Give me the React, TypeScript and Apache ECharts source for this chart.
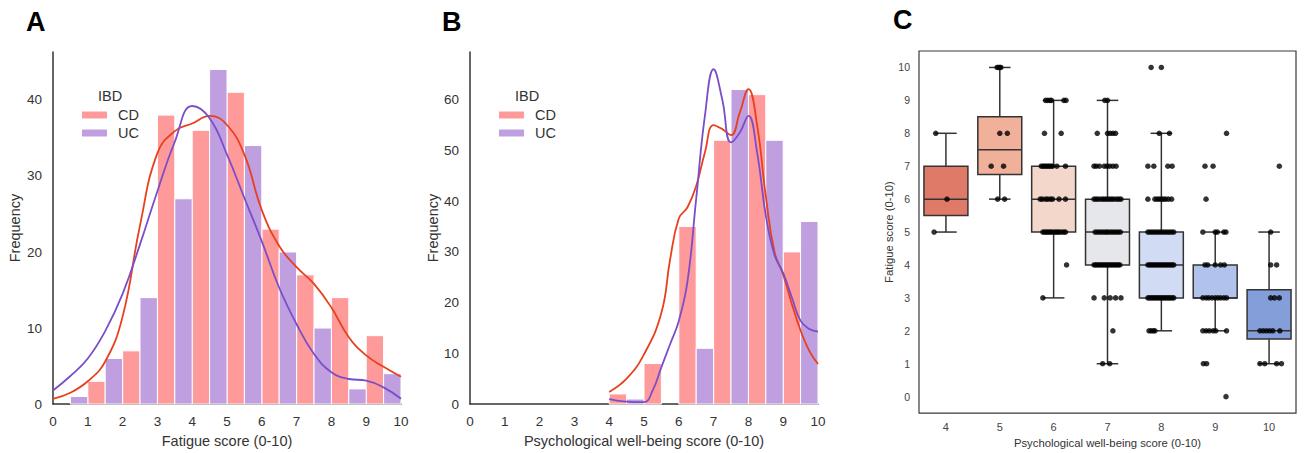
import React, { useEffect, useRef } from "react";
import * as echarts from "echarts";

// ---------- DATA ----------
const binStarts = [0, 1, 2, 3, 4, 5, 6, 7, 8, 9];
const fatigueCD = [0, 3, 7, 38, 36, 41, 23, 17, 14, 9];
const fatigueUC = [1, 6, 14, 27, 44, 34, 20, 10, 2, 4];
const wellbeingCD = [0, 0, 0, 0, 2, 8, 35, 52, 61, 30];
const wellbeingUC = [0, 0, 0, 0, 1, 0, 11, 62, 52, 36];

const fatigueKdeCD = [
  [0, 0.7], [0.5, 1.5], [1, 3.0], [1.5, 5.6], [2, 11.5], [2.5, 23.5], [3, 33], [3.5, 35.9],
  [4, 36.9], [4.5, 37.9], [5, 36.7], [5.5, 32.8], [6, 25.5], [6.5, 20.8], [7, 18], [7.5, 15.8],
  [8, 12.7], [8.5, 8.8], [9, 6.4], [9.5, 4.9], [10, 3.6],
];
const fatigueKdeUC = [
  [0, 1.8], [0.5, 3.7], [1, 6.0], [1.5, 9.6], [2, 14.5], [2.5, 21], [3, 28], [3.5, 34.5],
  [4, 39.2], [4.5, 37.6], [5, 32.8], [5.5, 27.1], [6, 21.4], [6.5, 15.3], [7, 10.5],
  [7.5, 6.6], [8, 4.2], [8.5, 3.3], [9, 3.1], [9.5, 2.2], [10, 0.7],
];
const wellbeingKdeCD = [
  [4, 2.4], [4.5, 5.0], [5, 9.8], [5.5, 18], [5.75, 28.5], [6, 36.6], [6.25, 38.8], [6.5, 43],
  [6.75, 49.6], [7, 55], [7.25, 54.2], [7.5, 53], [7.75, 57.4], [8, 62.1], [8.25, 55],
  [8.5, 41], [8.75, 30], [9, 25.5], [9.25, 19.7], [9.5, 14.5], [9.75, 10.5], [10, 7.9],
];
const wellbeingKdeUC = [
  [4, 1.0], [4.5, 0.5], [5, 0.4], [5.25, 2.7], [5.5, 7.3], [5.75, 11.8], [6, 16.4], [6.25, 24.2],
  [6.5, 40.5], [6.75, 56.8], [7, 66], [7.25, 60], [7.5, 51.6], [7.75, 53.5],
  [8, 56.8], [8.25, 49.6], [8.5, 37.2], [8.75, 29.4], [9, 25.8], [9.25, 21], [9.5, 16.4],
  [9.75, 14.8], [10, 14.3],
];

const boxCategories = ["4", "5", "6", "7", "8", "9", "10"];
// [min whisker, Q1, median, Q3, max whisker]
const boxStats = [
  [5, 5.5, 6, 7, 8],
  [6, 6.75, 7.5, 8.5, 10],
  [3, 5, 6, 7, 9],
  [1, 4, 5, 6, 9],
  [2, 3, 4, 5, 8],
  [2, 3, 3, 4, 5],
  [1, 1.75, 2, 3.25, 5],
];
const boxPalette = ["#e07a68", "#f0b09a", "#f3d7ca", "#e6e7eb", "#d1dcf4", "#b1c2ec", "#849ed9"];

// strip plot: [category index, fatigue score, jitter offsets]
const stripRows: [number, number, number[]][] = [
  [0, 8, [-0.19]], [0, 6, [0.02]], [0, 5, [-0.22]],
  [1, 10, [-0.05, -0.02, 0.0, 0.02]], [1, 8, [0.0, 0.14]], [1, 7, [-0.16, 0.07]], [1, 6, [-0.04, 0.09]],
  [2, 9, [-0.15, -0.11, -0.07, -0.04, 0.19, 0.23]], [2, 8, [-0.17, 0.14]],
  [2, 7, [-0.23, -0.2, -0.17, -0.14, -0.11, -0.08, -0.05, -0.02, 0.06, 0.22]],
  [2, 6, [-0.25, -0.21, -0.15, -0.11, -0.06, -0.02, 0.1, 0.22]],
  [2, 5, [-0.2, -0.17, -0.14, -0.11, -0.08, -0.05, -0.02, 0.02, 0.05, 0.08, 0.11, 0.15, 0.19, 0.22]],
  [2, 4, [0.24]], [2, 3, [-0.2]],
  [3, 9, [-0.05, 0.0]], [3, 8, [-0.19, 0.0, 0.05, 0.1, 0.15]],
  [3, 7, [-0.25, -0.21, -0.15, -0.06, -0.01, 0.04, 0.1, 0.16]],
  [3, 6, [-0.25, -0.21, -0.17, -0.12, -0.08, -0.04, 0.0, 0.04, 0.08, 0.12, 0.17, 0.21, 0.25]],
  [3, 5, [-0.23, -0.19, -0.15, -0.11, -0.07, -0.03, 0.0, 0.04, 0.08, 0.12, 0.16, 0.2, 0.24]],
  [3, 4, [-0.25, -0.22, -0.19, -0.16, -0.13, -0.1, -0.07, -0.04, -0.01, 0.02, 0.05, 0.08, 0.11, 0.14, 0.17, 0.2, 0.23]],
  [3, 3, [-0.25, -0.06, 0.05, 0.15, 0.25]], [3, 2, [0.1]], [3, 1, [-0.09, 0.04]],
  [4, 10, [-0.19, 0.0]], [4, 8, [-0.04, 0.15]], [4, 7, [-0.25, -0.14, 0.12, 0.2]],
  [4, 6, [-0.25, -0.12, -0.08, -0.04, 0.0, 0.04, 0.08, 0.13, 0.19]],
  [4, 5, [-0.25, -0.21, -0.17, -0.13, -0.09, -0.05, -0.01, 0.03, 0.07, 0.11, 0.15, 0.19, 0.23]],
  [4, 4, [-0.25, -0.22, -0.19, -0.16, -0.13, -0.1, -0.07, -0.04, -0.01, 0.02, 0.05, 0.08, 0.11, 0.14, 0.17, 0.2, 0.23]],
  [4, 3, [-0.25, -0.22, -0.19, -0.16, -0.13, -0.1, -0.07, -0.04, -0.01, 0.02, 0.05, 0.08, 0.11, 0.14, 0.17, 0.2, 0.23]],
  [4, 2, [-0.23, -0.19, -0.15, -0.12]],
  [5, 8, [0.21]], [5, 7, [-0.19, -0.04]], [5, 6, [-0.17]], [5, 5, [-0.23, 0.0, 0.04, 0.16, 0.2]],
  [5, 4, [-0.19, -0.14, 0.0, 0.1, 0.17]],
  [5, 3, [-0.23, -0.17, -0.12, -0.06, 0.0, 0.05, 0.1, 0.16, 0.21]],
  [5, 2, [-0.23, -0.17, -0.11, -0.04, 0.01, 0.21]], [5, 1, [-0.22, -0.16]], [5, 0, [0.2]],
  [6, 7, [0.19]], [6, 5, [0.03]], [6, 4, [0.03, 0.14]], [6, 3, [0.03, 0.1, 0.19]],
  [6, 2, [-0.17, -0.11, -0.05, 0.01, 0.07, 0.2]], [6, 1, [-0.17, -0.08, 0.14, 0.23]],
];

// ---------- STYLE ----------
const FONT = "'Liberation Sans', Arial, Helvetica, sans-serif";
const TXT = "#333333";
const CD_BAR = "#ff9a9a";
const UC_BAR = "#bf9fe0";
const CD_LINE = "#e8401e";
const UC_LINE = "#7b4ec9";
const EDGE = "#333333";

function barData(starts: number[], counts: number[], shift: number) {
  return starts
    .map((b, i) => [b + shift, b + shift + 0.5, counts[i]])
    .filter((d) => d[2] > 0);
}

function barSeries(data: number[][], color: string, axisIdx: number) {
  return {
    type: "custom",
    xAxisIndex: axisIdx,
    yAxisIndex: axisIdx,
    encode: { x: [0, 1], y: 2 },
    data,
    z: 2,
    renderItem: (_p: any, api: any) => {
      const a = api.coord([api.value(0), api.value(2)]);
      const b = api.coord([api.value(1), 0]);
      return {
        type: "rect",
        shape: { x: a[0], y: a[1], width: b[0] - a[0], height: b[1] - a[1] },
        style: { fill: color, stroke: "#ffffff", lineWidth: 1 },
      };
    },
  };
}

function kdeSeries(data: number[][], color: string, axisIdx: number) {
  return {
    type: "line",
    xAxisIndex: axisIdx,
    yAxisIndex: axisIdx,
    data,
    smooth: 0.45,
    symbol: "none",
    z: 5,
    lineStyle: { color, width: 1.8 },
  };
}

function histXAxis(grid: number, name: string) {
  return {
    type: "value",
    gridIndex: grid,
    min: 0,
    max: 10,
    interval: 1,
    name,
    nameLocation: "middle",
    nameGap: 27,
    nameTextStyle: { fontFamily: FONT, fontSize: 14.5, color: TXT },
    axisLine: { show: true, lineStyle: { color: EDGE, width: 1.5 } },
    axisTick: { show: false },
    splitLine: { show: false },
    axisLabel: { fontFamily: FONT, fontSize: 13.5, color: TXT, margin: 10 },
  };
}

function histYAxis(grid: number, max: number, gap: number) {
  return {
    type: "value",
    gridIndex: grid,
    min: 0,
    max,
    interval: 10,
    name: "Frequency",
    nameLocation: "middle",
    nameGap: gap,
    nameTextStyle: { fontFamily: FONT, fontSize: 14.5, color: TXT },
    axisLine: { show: true, lineStyle: { color: EDGE, width: 1.5 } },
    axisTick: { show: false },
    splitLine: { show: false },
    axisLabel: {
      fontFamily: FONT,
      fontSize: 13.5,
      color: TXT,
      margin: 11,
      formatter: (v: number) => (Math.abs(v % 10) < 1e-9 ? String(v) : ""),
    },
  };
}

function legendGraphic(x: number) {
  return [
    { type: "text", left: x + 16, top: 88, style: { text: "IBD", font: `14.5px ${FONT}`, fill: TXT } },
    { type: "rect", shape: { x, y: 111.5, width: 25, height: 7 }, style: { fill: CD_BAR } },
    { type: "text", left: x + 36, top: 107, style: { text: "CD", font: `14.5px ${FONT}`, fill: TXT } },
    { type: "rect", shape: { x, y: 129.5, width: 25, height: 7 }, style: { fill: UC_BAR } },
    { type: "text", left: x + 36, top: 125, style: { text: "UC", font: `14.5px ${FONT}`, fill: TXT } },
  ];
}

function panelLetter(text: string, x: number, y: number) {
  return {
    type: "text",
    x,
    y,
    style: { text, font: `bold 27px ${FONT}`, fill: "#000", textVerticalAlign: "middle" },
  };
}

export default function App() {
  const ref = useRef<HTMLDivElement>(null);

  useEffect(() => {
    if (!ref.current) return;
    const chart = echarts.init(ref.current, undefined, { renderer: "svg" });

    const boxData = boxStats.map((s, i) => [i, ...s]);
    const stripData: number[][] = [];
    stripRows.forEach(([cat, score, jit]) => {
      jit.forEach((j) => stripData.push([cat + j, score]));
    });

    const option: any = {
      animation: false,
      backgroundColor: "#ffffff",
      textStyle: { fontFamily: FONT },
      grid: [
        { left: 53, top: 52, width: 348, height: 355 },
        { left: 470, top: 52, width: 348, height: 355 },
        {
          left: 919, top: 51, width: 377, height: 366,
          show: true, borderColor: "#3a3a3a", borderWidth: 1.2, backgroundColor: "transparent",
        },
      ],
      xAxis: [
        histXAxis(0, "Fatigue score (0-10)"),
        histXAxis(1, "Psychological well-being score (0-10)"),
        {
          type: "category",
          gridIndex: 2,
          data: boxCategories,
          boundaryGap: true,
          name: "Psychological well-being score (0-10)",
          nameLocation: "middle",
          nameGap: 21,
          nameTextStyle: { fontFamily: FONT, fontSize: 11.3, color: TXT },
          axisLine: { show: false },
          axisTick: { show: false },
          splitLine: { show: false },
          axisLabel: { fontFamily: FONT, fontSize: 11, color: "#444", margin: 8 },
        },
        { type: "value", gridIndex: 2, min: -0.5, max: 6.5, show: false },
      ],
      yAxis: [
        histYAxis(0, 46.3, 31),
        histYAxis(1, 69.4, 30),
        {
          type: "value",
          gridIndex: 2,
          min: -0.5,
          max: 10.5,
          splitNumber: 11,
          name: "Fatigue score (0-10)",
          nameLocation: "middle",
          nameGap: 25,
          nameTextStyle: { fontFamily: FONT, fontSize: 11.3, color: TXT },
          axisLine: { show: false },
          axisTick: { show: false },
          splitLine: { show: false },
          axisLabel: {
            fontFamily: FONT,
            fontSize: 10.5,
            color: "#444",
            margin: 9,
            formatter: (v: number) => (Number.isInteger(v) ? String(v) : ""),
          },
        },
      ],
      graphic: [
        panelLetter("A", 26, 22),
        panelLetter("B", 442, 21.5),
        panelLetter("C", 893, 20),
        ...legendGraphic(82),
        ...legendGraphic(499),
      ],
      series: [
        barSeries(barData(binStarts, fatigueCD, 0), CD_BAR, 0),
        barSeries(barData(binStarts, fatigueUC, 0.5), UC_BAR, 0),
        kdeSeries(fatigueKdeCD, CD_LINE, 0),
        kdeSeries(fatigueKdeUC, UC_LINE, 0),
        barSeries(barData(binStarts, wellbeingCD, 0), CD_BAR, 1),
        barSeries(barData(binStarts, wellbeingUC, 0.5), UC_BAR, 1),
        kdeSeries(wellbeingKdeCD, CD_LINE, 1),
        kdeSeries(wellbeingKdeUC, UC_LINE, 1),
        {
          type: "custom",
          xAxisIndex: 2,
          yAxisIndex: 2,
          data: boxData,
          encode: { x: 0, y: [1, 2, 3, 4, 5] },
          z: 3,
          renderItem: (params: any, api: any) => {
            const c = api.value(0);
            const band = api.size([1, 0])[0];
            const half = band * 0.408;
            const cap = band * 0.2;
            const pMin = api.coord([c, api.value(1)]);
            const pQ1 = api.coord([c, api.value(2)]);
            const pMed = api.coord([c, api.value(3)]);
            const pQ3 = api.coord([c, api.value(4)]);
            const pMax = api.coord([c, api.value(5)]);
            const x = pMed[0];
            const ls = { stroke: EDGE, lineWidth: 1.5 };
            return {
              type: "group",
              children: [
                { type: "line", shape: { x1: x, y1: pQ1[1], x2: x, y2: pMin[1] }, style: ls },
                { type: "line", shape: { x1: x, y1: pQ3[1], x2: x, y2: pMax[1] }, style: ls },
                { type: "line", shape: { x1: x - cap, y1: pMin[1], x2: x + cap, y2: pMin[1] }, style: ls },
                { type: "line", shape: { x1: x - cap, y1: pMax[1], x2: x + cap, y2: pMax[1] }, style: ls },
                {
                  type: "rect",
                  shape: { x: x - half, y: pQ3[1], width: half * 2, height: pQ1[1] - pQ3[1] },
                  style: { fill: boxPalette[params.dataIndex], stroke: EDGE, lineWidth: 1.5 },
                },
                { type: "line", shape: { x1: x - half, y1: pMed[1], x2: x + half, y2: pMed[1] }, style: ls },
              ],
            };
          },
        },
        {
          type: "scatter",
          xAxisIndex: 3,
          yAxisIndex: 2,
          data: stripData,
          symbol: "circle",
          symbolSize: 5.5,
          z: 6,
          itemStyle: { color: "#000000" },
        },
      ],
    };

    chart.setOption(option);
    return () => chart.dispose();
  }, []);

  return (
    <div
      ref={ref}
      style={{ position: "fixed", left: 0, top: 0, width: 1304, height: 453, background: "#fff" }}
    />
  );
}
